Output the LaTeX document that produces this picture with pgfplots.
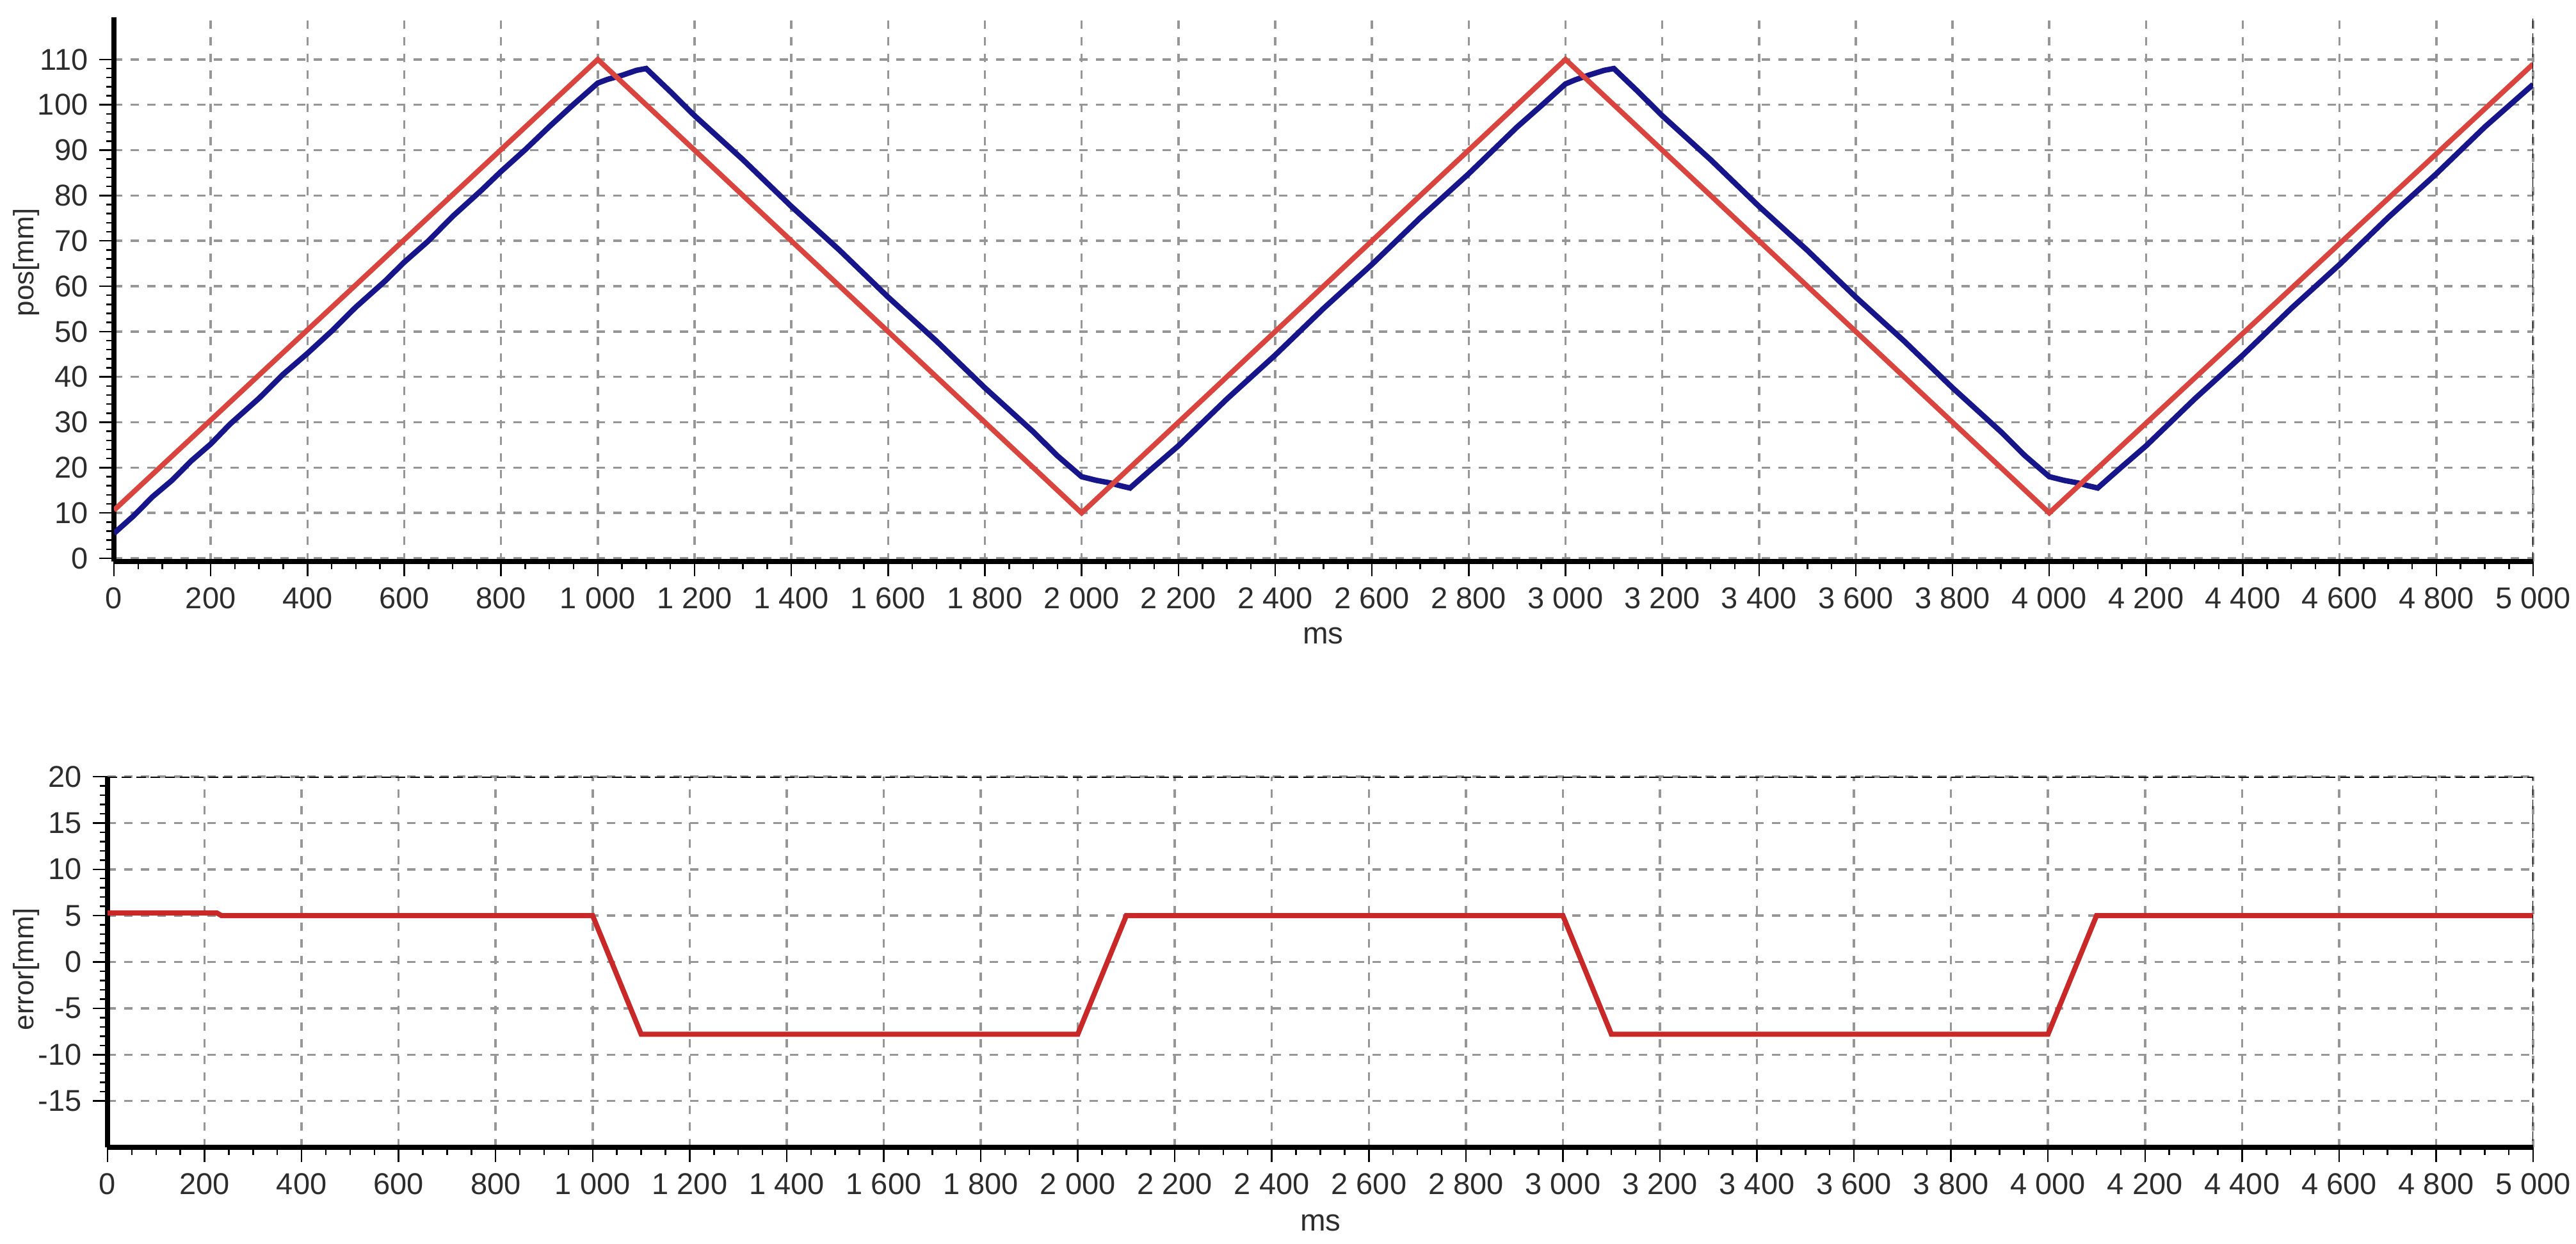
\documentclass[border=0pt]{standalone}
\usepackage{fontspec}
\setmainfont{Liberation Sans}
\usepackage{pgfplots}
\pgfplotsset{compat=1.18}
\definecolor{posred}{RGB}{218,68,62}
\definecolor{posblue}{RGB}{22,22,138}
\definecolor{errred}{RGB}{200,40,40}
\definecolor{gridgray}{RGB}{150,150,150}
\definecolor{ticktext}{RGB}{45,45,45}
\pgfplotsset{
 mystyle/.style={
  scale only axis,
  axis x line*=bottom, axis y line*=left,
  axis line style={line width=1.5pt, black},
  xmin=0, xmax=5000,
  xtick={0,200,...,5000},
  scaled x ticks=false,
  minor x tick num=3,
  tick align=outside,
  major tick length=4.6pt,
  minor tick length=2.4pt,
  tick style={black, line width=0.5pt},
  grid=major,
  major grid style={gridgray, line width=0.7pt, dash pattern=on 2.6pt off 2.6pt},
  tick label style={font=\fontsize{9.4}{10}\selectfont, text=ticktext},
  /pgf/number format/assume math mode=true,
  /pgf/number format/1000 sep={\hspace{0.28em}},
 }
}
\begin{document}
\begin{tikzpicture}
\useasboundingbox (0,0) rectangle (804.8pt,388.4pt);
% top axis
\begin{axis}[mystyle,
  at={(35.6pt,213pt)}, anchor=south west,
  width=755.8pt, height=170pt,
  ymin=-0.7, ymax=119.3,
  ytick={0,10,...,110},
  minor y tick num=4]
\addplot[posblue, line width=1.7pt] coordinates {
(0,5.5)(40,9.3)(80,13.6)(120,17.2)(160,21.5)(200,25.2)(240,29.6)(300,35.3)(350,40.6)(400,45.2)(450,50.1)(500,55.4)(560,61.1)(600,65.3)(650,70.0)(700,75.4)(760,81.2)(800,85.3)(850,90.1)(900,95.2)(950,100.1)(1000,104.8)(1020,105.6)(1050,106.5)(1080,107.6)(1100,108.0)
(1150,102.9)(1200,97.6)(1300,87.9)(1400,77.6)(1500,67.9)(1600,57.6)(1700,47.9)(1800,37.6)(1900,27.9)(1950,22.6)(2000,18.0)(2030,17.2)(2060,16.6)(2080,16.0)(2100,15.5)
(2150,20.2)(2200,24.8)(2300,35.1)(2400,44.8)(2500,55.1)(2600,64.8)(2700,75.1)(2800,84.8)(2900,95.1)(2950,99.8)(3000,104.6)(3020,105.5)(3050,106.6)(3080,107.6)(3100,108.0)
(3150,102.9)(3200,97.6)(3300,87.9)(3400,77.6)(3500,67.9)(3600,57.6)(3700,47.9)(3800,37.6)(3900,27.9)(3950,22.6)(4000,18.0)(4030,17.2)(4060,16.6)(4080,16.0)(4100,15.5)
(4150,20.2)(4200,24.8)(4300,35.1)(4400,44.8)(4500,55.1)(4600,64.8)(4700,75.1)(4800,84.8)(4900,95.1)(4950,99.8)(5000,104.5)
};
\addplot[posred, line width=1.6pt] coordinates {
(0,10.6)(1000,110)(2000,10)(3000,110)(4000,10)(5000,109)
};
\draw[black, line width=0.6pt, dash pattern=on 3pt off 1.5pt] (rel axis cs:1,0) -- (rel axis cs:1,1);
\end{axis}
% bottom axis
\begin{axis}[mystyle,
  at={(33.6pt,30pt)}, anchor=south west,
  width=757.8pt, height=115.8pt,
  ymin=-20, ymax=20,
  ytick={-15,-10,...,20},
  minor y tick num=4]
\addplot[errred, line width=1.6pt] coordinates {
(0,5.3)(225,5.3)(235,5.0)(1000,5.0)(1100,-7.8)(2000,-7.8)(2100,5.0)(3000,5.0)(3100,-7.8)(4000,-7.8)(4100,5.0)(5000,5.0)
};
\draw[black, line width=0.6pt, dash pattern=on 3pt off 1.5pt] (rel axis cs:0,1) -- (rel axis cs:1,1) -- (rel axis cs:1,0);
\end{axis}
\node[rotate=90, font=\fontsize{8.8}{10}\selectfont, text=ticktext] at (8.2pt,306.4pt) {pos[mm]};
\node[rotate=90, font=\fontsize{8.8}{10}\selectfont, text=ticktext] at (8.2pt,85.6pt) {error[mm]};
\node[font=\fontsize{9.5}{10}\selectfont, text=ticktext] at (413.4pt,189.8pt) {ms};
\node[font=\fontsize{9.5}{10}\selectfont, text=ticktext] at (412.6pt,6.4pt) {ms};
\end{tikzpicture}
\end{document}
